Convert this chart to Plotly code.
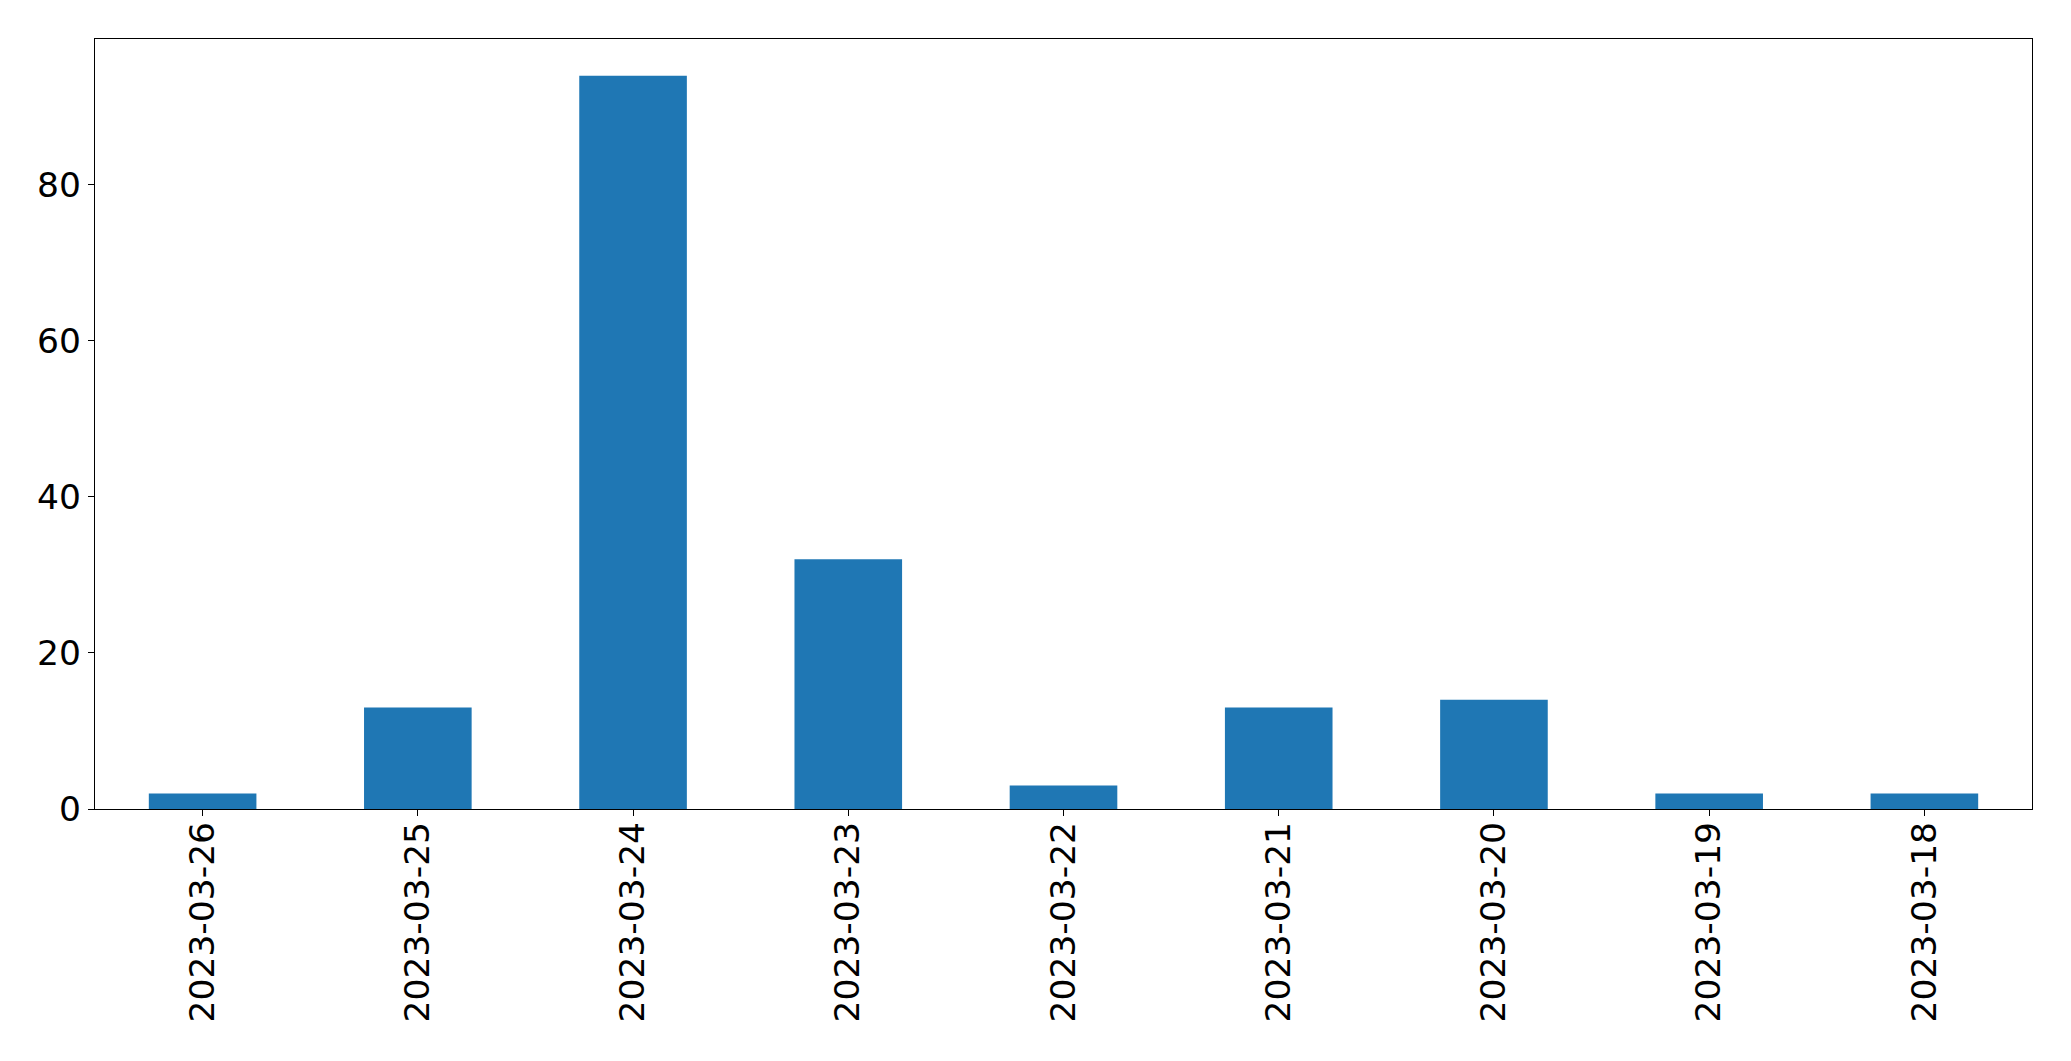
import plotly.graph_objects as go

dates = ["2023-03-26", "2023-03-25", "2023-03-24", "2023-03-23", "2023-03-22",
         "2023-03-21", "2023-03-20", "2023-03-19", "2023-03-18"]
counts = [2, 13, 94, 32, 3, 13, 14, 2, 2]
y_ticks = [0, 20, 40, 60, 80]

fig = go.Figure(go.Bar(x=list(range(len(dates))), y=counts, width=0.5,
                       marker=dict(color="#1f77b4", line=dict(width=0))))

axis_common = dict(showline=True, linecolor="black", linewidth=1.3, mirror=True,
                   ticks="outside", ticklen=6, tickwidth=1.3, tickcolor="black",
                   showgrid=False, zeroline=False,
                   tickfont=dict(family="DejaVu Sans", size=34.5, color="black"))

fig.update_layout(
    width=2063, height=1053,
    margin=dict(l=87, r=39, t=31, b=252),
    plot_bgcolor="white", paper_bgcolor="white",
    showlegend=False,
    xaxis=dict(range=[-0.5, len(dates) - 0.5], tickmode="array",
               tickvals=list(range(len(dates))), ticktext=dates, tickangle=-90,
               ticklabelstandoff=-8, **axis_common),
    yaxis=dict(range=[0, max(counts) * 1.05], tickmode="array", tickvals=y_ticks,
               **axis_common),
)
fig.write_html("out.html")
